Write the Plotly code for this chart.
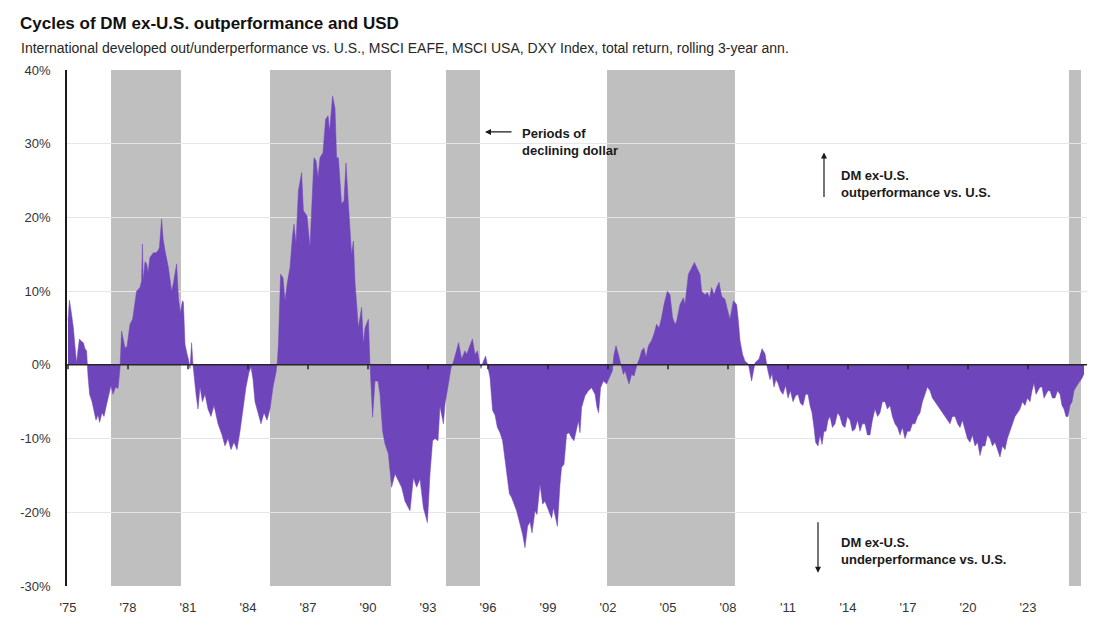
import plotly.graph_objects as go

# rolling 3-yr ann. relative return, DM ex-U.S. minus U.S. (%)
years = [
    1975.00, 1975.07, 1975.17, 1975.27, 1975.35, 1975.43, 1975.50, 1975.57, 1975.67, 1975.77,
    1975.85, 1975.93, 1976.00, 1976.08, 1976.20, 1976.30, 1976.40, 1976.50, 1976.58, 1976.70,
    1976.80, 1976.92, 1977.05, 1977.15, 1977.25, 1977.38, 1977.50, 1977.60, 1977.68, 1977.76,
    1977.85, 1977.95, 1978.10, 1978.23, 1978.33, 1978.43, 1978.60, 1978.68, 1978.72, 1978.76,
    1978.85, 1978.93, 1979.00, 1979.10, 1979.27, 1979.40, 1979.50, 1979.57, 1979.68, 1979.76,
    1979.85, 1980.02, 1980.18, 1980.28, 1980.43, 1980.52, 1980.62, 1980.72, 1980.77, 1980.85,
    1980.95, 1981.02, 1981.10, 1981.18, 1981.25, 1981.32, 1981.40, 1981.50, 1981.60, 1981.72,
    1981.85, 1982.00, 1982.15, 1982.30, 1982.50, 1982.70, 1982.85, 1983.00, 1983.15, 1983.30,
    1983.45, 1983.60, 1983.75, 1983.90, 1984.05, 1984.15, 1984.25, 1984.35, 1984.50, 1984.65,
    1984.80, 1984.95, 1985.10, 1985.25, 1985.40, 1985.47, 1985.52, 1985.63, 1985.75, 1985.85,
    1985.97, 1986.10, 1986.22, 1986.30, 1986.40, 1986.52, 1986.68, 1986.77, 1986.95, 1987.10,
    1987.18, 1987.30, 1987.40, 1987.50, 1987.60, 1987.75, 1987.88, 1988.00, 1988.08, 1988.23,
    1988.35, 1988.43, 1988.52, 1988.68, 1988.80, 1988.90, 1989.02, 1989.18, 1989.27, 1989.35,
    1989.52, 1989.68, 1989.77, 1989.85, 1990.02, 1990.10, 1990.23, 1990.35, 1990.50, 1990.60,
    1990.73, 1990.85, 1991.02, 1991.18, 1991.35, 1991.52, 1991.68, 1991.85, 1992.10, 1992.27,
    1992.43, 1992.60, 1992.77, 1992.97, 1993.10, 1993.23, 1993.35, 1993.50, 1993.60, 1993.77,
    1993.85, 1994.02, 1994.15, 1994.27, 1994.40, 1994.53, 1994.68, 1994.85, 1994.93, 1995.05,
    1995.22, 1995.35, 1995.47, 1995.58, 1995.65, 1995.77, 1995.88, 1995.97, 1996.10, 1996.23,
    1996.35, 1996.47, 1996.60, 1996.73, 1996.85, 1996.95, 1997.07, 1997.18, 1997.30, 1997.43,
    1997.60, 1997.73, 1997.85, 1997.98, 1998.10, 1998.20, 1998.35, 1998.45, 1998.60, 1998.73,
    1998.85, 1999.02, 1999.18, 1999.27, 1999.35, 1999.47, 1999.60, 1999.68, 1999.80, 1999.93,
    2000.05, 2000.18, 2000.30, 2000.40, 2000.52, 2000.60, 2000.68, 2000.85, 2001.02, 2001.18,
    2001.35, 2001.45, 2001.53, 2001.63, 2001.77, 2001.93, 2002.10, 2002.22, 2002.30, 2002.40,
    2002.52, 2002.63, 2002.77, 2002.85, 2002.95, 2003.05, 2003.18, 2003.30, 2003.45, 2003.57,
    2003.68, 2003.80, 2003.90, 2004.02, 2004.18, 2004.30, 2004.43, 2004.55, 2004.68, 2004.80,
    2004.97, 2005.10, 2005.23, 2005.35, 2005.43, 2005.60, 2005.77, 2005.85, 2006.02, 2006.18,
    2006.32, 2006.47, 2006.60, 2006.68, 2006.85, 2006.97, 2007.07, 2007.18, 2007.30, 2007.43,
    2007.55, 2007.68, 2007.85, 2007.97, 2008.10, 2008.27, 2008.43, 2008.52, 2008.60, 2008.73,
    2008.85, 2009.02, 2009.18, 2009.35, 2009.55, 2009.70, 2009.85, 2009.97, 2010.10, 2010.20,
    2010.30, 2010.40, 2010.50, 2010.62, 2010.75, 2010.88, 2011.00, 2011.12, 2011.25, 2011.38,
    2011.50, 2011.62, 2011.75, 2011.88, 2012.00, 2012.10, 2012.20, 2012.30, 2012.38, 2012.50,
    2012.60, 2012.70, 2012.80, 2012.90, 2013.00, 2013.10, 2013.22, 2013.35, 2013.48, 2013.60,
    2013.72, 2013.85, 2013.97, 2014.10, 2014.22, 2014.35, 2014.48, 2014.60, 2014.72, 2014.85,
    2014.97, 2015.10, 2015.22, 2015.35, 2015.48, 2015.60, 2015.72, 2015.85, 2015.97, 2016.10,
    2016.22, 2016.35, 2016.48, 2016.60, 2016.72, 2016.85, 2016.97, 2017.10, 2017.22, 2017.35,
    2017.48, 2017.60, 2017.72, 2017.85, 2017.97, 2018.10, 2018.22, 2018.35, 2018.48, 2018.60,
    2018.72, 2018.85, 2018.97, 2019.10, 2019.22, 2019.35, 2019.48, 2019.60, 2019.72, 2019.85,
    2019.97, 2020.10, 2020.22, 2020.35, 2020.48, 2020.60, 2020.72, 2020.85, 2020.97, 2021.10,
    2021.22, 2021.35, 2021.48, 2021.60, 2021.72, 2021.85, 2021.97, 2022.10, 2022.22, 2022.35,
    2022.48, 2022.60, 2022.72, 2022.85, 2022.97, 2023.10, 2023.20, 2023.30, 2023.40, 2023.50,
    2023.60, 2023.70, 2023.80, 2023.90, 2024.00, 2024.10, 2024.22, 2024.35, 2024.48, 2024.60,
    2024.70, 2024.80, 2024.90, 2025.00, 2025.10, 2025.20, 2025.30, 2025.40, 2025.50, 2025.60,
    2025.70, 2025.80,
]
rel_perf = [
    6.0, 8.8, 7.0, 5.0, 2.5, 0.3, 2.0, 3.5, 3.2, 3.0,
    2.2, 1.9, -1.5, -4.0, -5.0, -6.5, -7.5, -6.8, -7.8, -6.5,
    -7.0, -5.5, -4.0, -2.8, -4.0, -3.0, -3.2, -0.5, 4.6, 3.5,
    2.3, 2.5, 5.5, 6.2, 8.5, 10.0, 10.5, 11.4, 16.4, 11.4,
    14.0, 13.7, 12.5, 14.6, 15.2, 15.2, 15.5, 15.9, 19.8, 17.0,
    15.5, 13.2, 10.0, 11.2, 13.7, 9.1, 7.0, 8.7, 8.5, 2.8,
    1.5, 0.8, -0.5, 3.0, 0.0, -2.0, -4.0, -6.0, -3.0, -5.0,
    -4.0, -6.0, -7.0, -5.5, -8.0, -9.5, -11.0, -10.0, -11.5, -10.5,
    -11.5, -9.0, -6.0, -3.0, -1.0, -0.3, -2.0, -5.0, -6.5, -8.0,
    -6.5, -7.5, -6.0, -3.0, -1.0, 0.5, 2.8, 12.3, 11.8, 8.7,
    11.2, 13.2, 17.3, 19.1, 16.4, 23.6, 26.1, 20.9, 20.2, 15.9,
    20.9, 28.1, 27.7, 25.4, 28.1, 28.8, 33.3, 33.8, 31.7, 36.5,
    34.8, 28.1, 28.1, 21.8, 22.3, 27.4, 21.8, 15.0, 16.8, 11.2,
    5.0, 7.8, 2.8, 5.0, 6.2, 0.0, -7.1, -2.2, -2.2, -4.0,
    -9.0, -10.7, -12.1, -16.6, -14.8, -15.7, -16.6, -18.5, -19.8, -15.3,
    -16.6, -15.5, -19.4, -21.4, -14.8, -10.3, -10.0, -10.3, -5.6, -8.0,
    -5.3, -2.6, -0.4, 0.4, 1.9, 3.0, 0.8, 1.9, 1.4, 2.3,
    3.5, 1.4, 1.9, 0.3, -0.5, 0.5, 1.2, 0.0, -1.7, -6.2,
    -6.8, -8.5, -9.2, -10.3, -12.6, -14.8, -17.5, -18.0, -18.9, -19.8,
    -21.6, -23.0, -24.8, -21.9, -21.3, -22.8, -19.8, -20.3, -16.2, -18.9,
    -18.5, -19.8, -20.8, -19.4, -20.3, -21.9, -16.2, -13.9, -13.5, -9.4,
    -9.2, -9.9, -10.3, -9.2, -7.6, -9.2, -5.8, -4.2, -3.5, -3.1,
    -4.0, -5.8, -6.5, -3.1, -2.2, -2.6, -1.5, -0.8, 1.4, 2.6,
    1.4, 0.3, -1.3, -0.8, -1.7, -2.6, -1.3, -1.5, 0.0, 0.8,
    1.9, 2.3, 1.0, 2.6, 3.3, 4.2, 5.5, 5.0, 6.4, 8.2,
    10.0, 9.5, 6.4, 5.5, 5.9, 8.2, 9.1, 8.2, 12.3, 13.2,
    13.9, 13.0, 12.3, 10.0, 9.5, 9.8, 9.1, 10.5, 9.5, 10.5,
    11.2, 9.3, 8.9, 7.5, 6.2, 8.7, 8.2, 5.9, 3.3, 1.4,
    0.5, 0.1, -2.2, 0.3, 0.8, 2.2, 1.5, -0.5, -2.0, -1.2,
    -3.0, -2.0, -2.5, -3.5, -4.0, -2.8, -4.5, -3.5, -5.0, -4.2,
    -4.0, -5.2, -5.5, -4.0, -4.0, -5.5, -6.5, -8.5, -10.5, -11.0,
    -9.5, -10.8, -9.0, -9.0, -7.5, -7.0, -8.5, -8.0, -6.5, -7.0,
    -8.2, -8.5, -7.0, -7.5, -9.0, -8.7, -7.5, -9.0, -8.0, -8.0,
    -9.5, -9.5, -7.5, -6.0, -7.0, -6.5, -5.0, -5.0, -6.0, -5.5,
    -7.0, -8.0, -8.5, -9.5, -8.5, -10.0, -9.0, -9.0, -8.0, -8.0,
    -7.0, -6.5, -5.0, -4.0, -3.0, -3.5, -4.5, -5.0, -5.5, -6.0,
    -6.5, -7.0, -7.5, -8.0, -7.0, -7.0, -8.0, -8.5, -7.5, -9.0,
    -10.0, -10.5, -9.5, -11.0, -10.5, -12.3, -11.0, -11.0, -9.5, -10.0,
    -11.0, -10.5, -11.5, -12.5, -11.0, -11.5, -10.0, -9.0, -8.0, -7.0,
    -6.5, -6.0, -5.0, -5.5, -4.5, -5.0, -3.5, -2.5, -4.0, -3.5,
    -3.0, -3.0, -4.5, -4.0, -3.5, -3.5, -4.5, -4.5, -3.5, -4.0,
    -5.5, -6.0, -7.0, -7.0, -5.5, -5.0, -3.5, -3.0, -2.5, -2.2,
    -1.8, -1.2,
]

# periods of declining dollar (shaded)
band_start = [1977.15, 1985.10, 1993.90, 2001.95, 2025.05]
band_end = [1980.65, 1991.15, 1995.60, 2008.35, 2025.65]

tick_years = list(range(1975, 2024, 3))
tick_text = ["'%02d" % (y % 100) for y in tick_years]
y_ticks = [40, 30, 20, 10, 0, -10, -20, -30]
y_text = ["%d%%" % v for v in y_ticks]

PURPLE = "#6F45BB"
GRAY = "#BFBFBF"
FONT = "Liberation Sans, Arial, sans-serif"

fig = go.Figure()
fig.add_trace(go.Scatter(
    x=years, y=rel_perf,
    mode="lines", fill="tozeroy",
    line=dict(color=PURPLE, width=0.5),
    fillcolor=PURPLE,
    hoverinfo="skip",
))

shapes = []
for s, e in zip(band_start, band_end):
    shapes.append(dict(type="rect", xref="x", yref="paper", x0=s, x1=e, y0=0, y1=1,
                       fillcolor=GRAY, line=dict(width=0), layer="between"))
# zero line with small ticks
shapes.append(dict(type="line", xref="paper", yref="y", x0=0, x1=1, y0=0, y1=0,
                   line=dict(color="#262626", width=1.5), layer="above"))
for t in tick_years:
    shapes.append(dict(type="line", xref="x", yref="y", x0=t, x1=t, y0=0, y1=-0.6,
                       line=dict(color="#262626", width=1.5), layer="above"))

ann_font = dict(family=FONT, size=13, color="#1a1a1a")
annotations = [
    dict(xref="paper", yref="paper", x=-0.047, y=1.043, xanchor="left", yanchor="middle",
         text="International developed out/underperformance vs. U.S., MSCI EAFE, MSCI USA, DXY Index, total return, rolling 3-year ann.",
         showarrow=False, font=dict(family=FONT, size=14, color="#262626")),
    # periods of declining dollar
    dict(x=1995.85, y=31.6, ax=28, ay=0, text="", showarrow=True,
         arrowhead=2, arrowsize=1, arrowwidth=1.2, arrowcolor="#1a1a1a"),
    dict(x=1997.6, y=30.3, xanchor="left", yanchor="middle", align="left",
         text="<b>Periods of<br>declining dollar</b>", showarrow=False, font=ann_font),
    # outperformance
    dict(x=2012.8, y=28.8, ax=0, ay=46, text="", showarrow=True,
         arrowhead=2, arrowsize=1, arrowwidth=1.2, arrowcolor="#1a1a1a"),
    dict(x=2013.55, y=24.5, xanchor="left", yanchor="middle", align="left",
         text="<b>DM ex-U.S.<br>outperformance vs. U.S.</b>", showarrow=False, font=ann_font),
    # underperformance
    dict(x=2012.5, y=-28.2, ax=0, ay=-52, text="", showarrow=True,
         arrowhead=2, arrowsize=1, arrowwidth=1.2, arrowcolor="#1a1a1a"),
    dict(x=2013.55, y=-25.3, xanchor="left", yanchor="middle", align="left",
         text="<b>DM ex-U.S.<br>underperformance vs. U.S.</b>", showarrow=False, font=ann_font),
]

# page body adds an 8px offset, so margins are shifted to compensate
fig.update_layout(
    width=1099, height=634,
    margin=dict(l=59, r=20, t=62, b=56),
    paper_bgcolor="white", plot_bgcolor="white",
    showlegend=False,
    font=dict(family=FONT, size=13, color="#333333"),
    title=dict(text="<b>Cycles of DM ex-U.S. outperformance and USD</b>",
               x=12 / 1099, xanchor="left", xref="container",
               y=1 - 15 / 634, yanchor="middle", yref="container",
               font=dict(family=FONT, size=17, color="#111111")),
    xaxis=dict(range=[1974.95, 2025.95], tickvals=tick_years, ticktext=tick_text,
               showgrid=False, zeroline=False, showline=False, ticks="",
               ticklabelstandoff=12, tickfont=dict(size=13, color="#333333")),
    yaxis=dict(range=[-30, 40], tickvals=y_ticks, ticktext=y_text,
               showgrid=True, gridcolor="#E6E6E6", gridwidth=1,
               zeroline=False, showline=True, linecolor="#1a1a1a", linewidth=1.5,
               ticks="", ticklabelstandoff=12, tickfont=dict(size=13, color="#333333")),
    shapes=shapes,
    annotations=annotations,
)

fig.write_html("out.html")
